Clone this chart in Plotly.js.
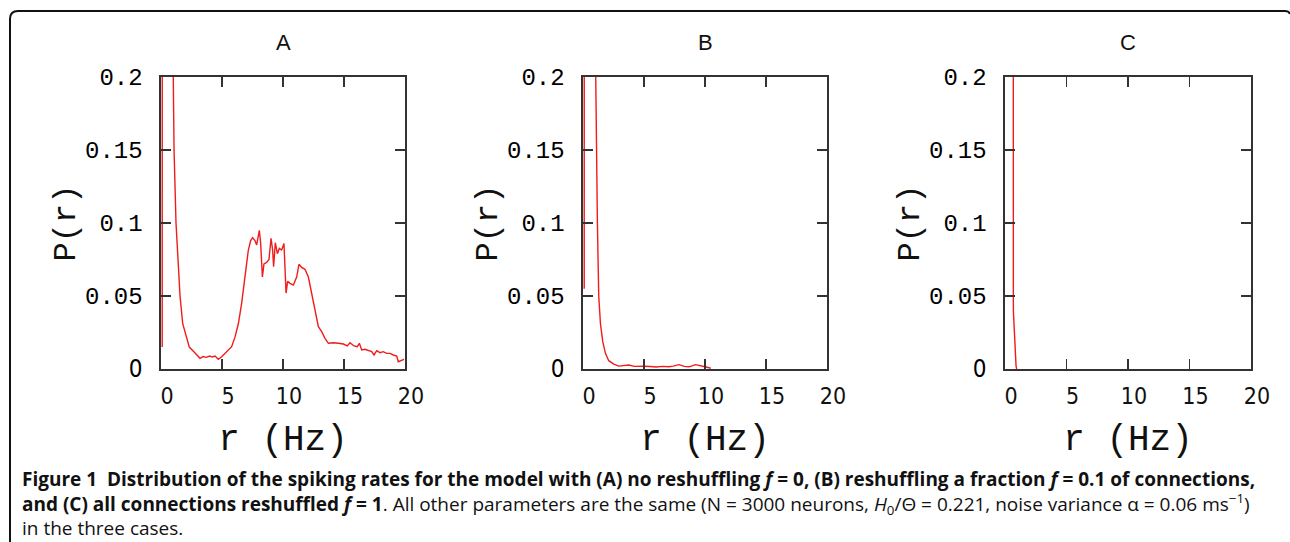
<!DOCTYPE html>
<html>
<head>
<meta charset="utf-8">
<script src="https://cdn.plot.ly/plotly-3.0.1.min.js"></script>
<style>html,body{margin:0;padding:0;background:#fff;}#chart{width:1290px;height:542px;}</style>
</head>
<body>
<div id="chart"></div>
<script>
// Panel A: no reshuffling (f = 0)
const rateA = [0.1, 0.12, 0.5, 0.96, 1.07, 1.23, 1.42, 1.56, 1.78, 2.05, 2.32, 2.79, 3.2, 3.45, 3.69, 4.0, 4.2, 4.43, 4.7, 4.97, 5.38, 5.79, 6.07, 6.34, 6.61, 6.89, 7.16, 7.35, 7.51, 7.7, 7.84, 8.06, 8.17, 8.31, 8.44, 8.66, 8.85, 9.02, 9.15, 9.23, 9.37, 9.54, 9.7, 9.89, 10.08, 10.25, 10.38, 10.57, 10.85, 11.12, 11.31, 11.53, 11.8, 12.08, 12.35, 12.62, 12.9, 13.17, 13.44, 13.72, 14.13, 14.54, 14.95, 15.27, 15.49, 15.82, 16.09, 16.26, 16.45, 16.72, 17.0, 17.27, 17.46, 17.68, 17.95, 18.22, 18.5, 18.77, 19.04, 19.32, 19.45, 19.73, 19.92];
const probA = [0.015, 1.5, 0.6, 0.2, 0.15, 0.1, 0.072, 0.05, 0.031, 0.022, 0.015, 0.011, 0.0073, 0.0085, 0.008, 0.0089, 0.0082, 0.0089, 0.0066, 0.0084, 0.0119, 0.0153, 0.022, 0.031, 0.045, 0.063, 0.0815, 0.088, 0.090, 0.088, 0.085, 0.095, 0.086, 0.063, 0.072, 0.073, 0.075, 0.0895, 0.0815, 0.070, 0.0865, 0.079, 0.0826, 0.0815, 0.086, 0.052, 0.060, 0.0587, 0.0575, 0.063, 0.0717, 0.0696, 0.0683, 0.063, 0.052, 0.039, 0.029, 0.0256, 0.021, 0.0176, 0.018, 0.0176, 0.0171, 0.0158, 0.018, 0.0158, 0.0153, 0.0176, 0.013, 0.0135, 0.0126, 0.0119, 0.0096, 0.0126, 0.0112, 0.0119, 0.0107, 0.0107, 0.0096, 0.0089, 0.005, 0.0062, 0.0066];

// Panel B: fraction f = 0.1 reshuffled
const rateB = [0.1, 0.12, 0.5, 1.01, 1.1, 1.18, 1.29, 1.43, 1.62, 1.84, 2.11, 2.52, 2.93, 3.3, 3.76, 4.2, 4.58, 5.0, 5.5, 6.0, 6.5, 7.0, 7.4, 7.87, 8.3, 8.7, 9.23, 9.78, 10.1, 10.47];
const probB = [0.055, 1.5, 0.6, 0.2, 0.15, 0.1, 0.05, 0.031, 0.0187, 0.0107, 0.0057, 0.0034, 0.002, 0.0024, 0.0027, 0.0018, 0.0016, 0.0019, 0.0017, 0.0014, 0.0018, 0.0015, 0.002, 0.003, 0.0018, 0.0015, 0.003, 0.0022, 0.0014, 0.0005];

// Panel C: all connections reshuffled (f = 1)
const rateC = [0.6, 0.68, 0.9, 0.95];
const probC = [3.0, 0.04, 0.002, 0];

const xTicks = [0, 5, 10, 15, 20];
const xTickText = ['0', '5', '10', '15', '20'];
const yTicks = [0, 0.05, 0.1, 0.15, 0.2];
const yTickText = ['<span style="font-family:\'DejaVu Sans Condensed\',\'Liberation Sans Narrow\',sans-serif">0</span>', '0.05', '0.1', '0.15', '0.2'];
const panelTitles = ['A', 'B', 'C'];
const xTitle = 'r (Hz)';
const yTitle = 'P(r)';

const W = 1290, H = 542;
const plotLeft = [161, 583, 1005];
const plotRight = [405, 827, 1251];
const plotTop = 77, plotBottom = 369;

const lineColor = '#333';
const red = 'rgb(240,28,28)';

const data = [
  {x: rateA, y: probA, xaxis: 'x', yaxis: 'y'},
  {x: rateB, y: probB, xaxis: 'x2', yaxis: 'y2'},
  {x: rateC, y: probC, xaxis: 'x3', yaxis: 'y3'}
].map(t => Object.assign(t, {type: 'scatter', mode: 'lines', line: {color: red, width: 1.4}, hoverinfo: 'skip', cliponaxis: true}));

function xAxis(i) {
  return {
    domain: [plotLeft[i] / W, plotRight[i] / W],
    anchor: i === 0 ? 'y' : 'y' + (i + 1),
    range: [0, 20],
    tickvals: xTicks, ticktext: xTickText, tickmode: 'array',
    ticks: 'inside', ticklen: 10, tickwidth: 1.5, tickcolor: lineColor,
    showline: true, linecolor: lineColor, linewidth: 1.6, mirror: 'ticks',
    showgrid: false, zeroline: false, automargin: false,
    tickfont: {family: "'DejaVu Sans Condensed','Liberation Sans Narrow',sans-serif", size: 23, color: '#111'},
    ticklabelstandoff: 6, ticklabelshift: 6,
    title: {text: xTitle, font: {family: "'Liberation Mono',monospace", size: 36, color: '#111'}, standoff: 16}
  };
}
function yAxis(i) {
  return {
    domain: [1 - plotBottom / H, 1 - plotTop / H],
    anchor: i === 0 ? 'x' : 'x' + (i + 1),
    range: [0, 0.2],
    tickvals: yTicks, ticktext: yTickText, tickmode: 'array',
    ticks: 'inside', ticklen: 10, tickwidth: 1.5, tickcolor: lineColor,
    showline: true, linecolor: lineColor, linewidth: 1.6, mirror: 'ticks',
    showgrid: false, zeroline: false, automargin: false,
    tickfont: {family: "'Liberation Mono',monospace", size: 24, color: '#000'},
    ticklabelstandoff: 12,
    title: {text: yTitle, font: {family: "'Liberation Mono',monospace", size: 32, color: '#111'}, standoff: 0}
  };
}

const annotations = panelTitles.map((t, i) => ({
  text: t, xref: 'paper', yref: 'paper',
  x: (plotLeft[i] + plotRight[i]) / 2 / W, y: 1 - 42 / H,
  xanchor: 'center', yanchor: 'middle', showarrow: false,
  font: {family: "'Liberation Sans',Arial,sans-serif", size: 22, color: '#111'}
}));

const captionLines = [
  '<b>Figure 1</b>\u00a0\u00a0<b>Distribution of the spiking rates for the model with (A) no reshuffling <i>f</i> = 0, (B) reshuffling a fraction <i>f</i> = 0.1 of connections,</b>',
  '<b>and (C) all connections reshuffled <i>f</i> = 1</b>. All other parameters are the same (N = 3000 neurons, <i>H</i><sub>0</sub>/Θ = 0.221, noise variance α = 0.06 ms<sup>−1</sup>)',
  'in the three cases.'
];
annotations.push({
  text: captionLines.join('<br>'), xref: 'paper', yref: 'paper', x: 20 / W, y: 1 - 503 / H,
  xanchor: 'left', yanchor: 'middle', align: 'left', showarrow: false,
  font: {family: "'Open Sans','Noto Sans',sans-serif", size: 19, color: '#111'}
});

const px = v => v / W, py = v => 1 - v / H;
const borderPath = `M ${px(10)},0 L ${px(10)},${py(19)} Q ${px(10)},${py(11)} ${px(18)},${py(11)} L ${px(1285)},${py(11)} Q ${px(1289)},${py(11)} ${px(1290)},${py(14)}`;

const layout = {
  width: W, height: H,
  margin: {l: 0, r: 0, t: 0, b: 0},
  paper_bgcolor: '#fff', plot_bgcolor: '#fff',
  showlegend: false,
  xaxis: xAxis(0), xaxis2: xAxis(1), xaxis3: xAxis(2),
  yaxis: yAxis(0), yaxis2: yAxis(1), yaxis3: yAxis(2),
  annotations: annotations,
  shapes: [{type: 'path', xref: 'paper', yref: 'paper', path: borderPath, line: {color: '#111', width: 2}}]
};

Plotly.newPlot('chart', data, layout, {staticPlot: true, displayModeBar: false});
</script>
</body>
</html>
